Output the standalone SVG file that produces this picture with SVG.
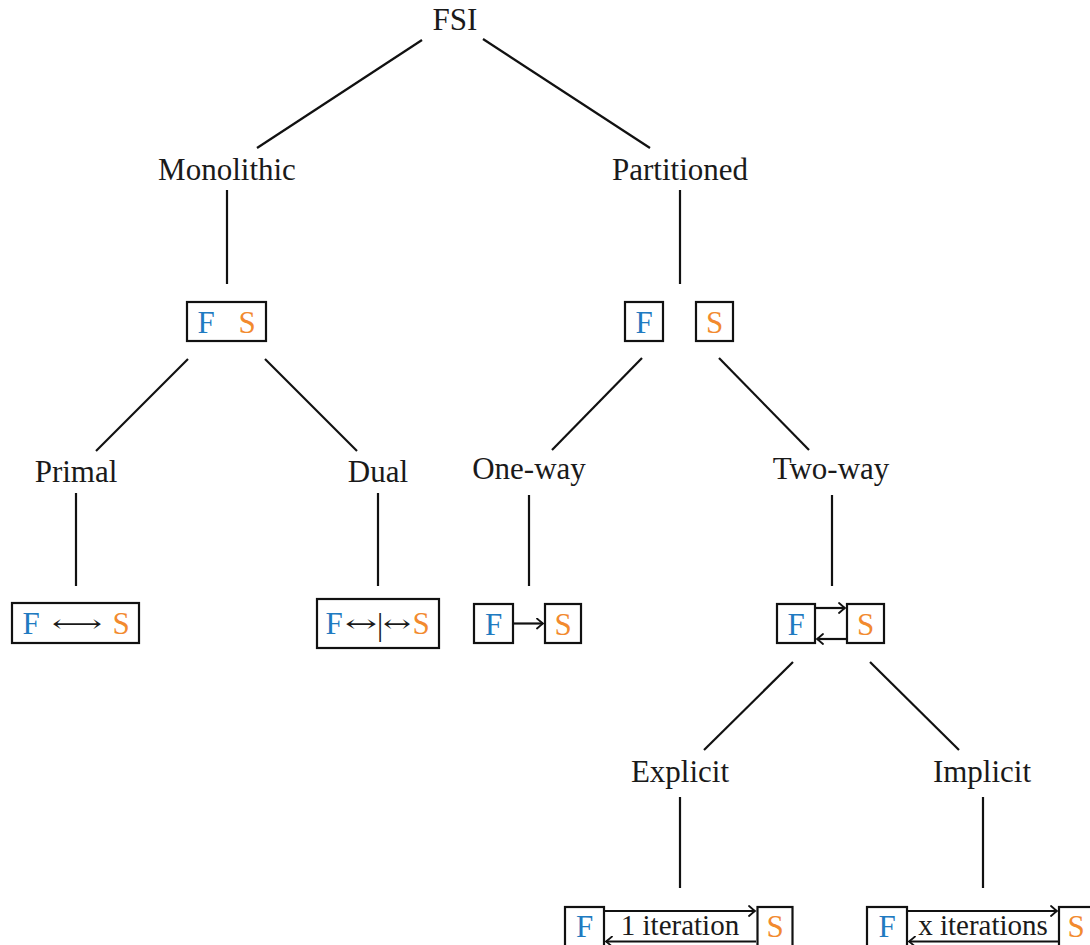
<svg xmlns="http://www.w3.org/2000/svg" width="1090" height="945" viewBox="0 0 1090 945">
  <defs>
    <style>
      text { font-family: "Liberation Serif", "DejaVu Serif", serif; }
      .lbl { font-size: 31px; fill: #1a1a1a; text-anchor: middle; }
      .sm { font-size: 29px; }
      .f { fill: #1f7bc1; }
      .s { fill: #f28a2e; }
      .sym { font-family: "DejaVu Serif", "DejaVu Sans", serif; font-size: 24px; fill: #1a1a1a; }
      .box { fill: #ffffff; stroke: #111111; stroke-width: 2.2; }
      .edge { stroke: #111111; stroke-width: 2.2; fill: none; }
      .arr { stroke: #111111; stroke-width: 2.2; fill: none; marker-end: url(#to); }
    </style>
    <marker id="to" viewBox="-8 -6 10 12" refX="0" refY="0" markerWidth="10" markerHeight="12" markerUnits="userSpaceOnUse" orient="auto">
      <path d="M-6,-5 Q-1.5,-1 0,0 Q-1.5,1 -6,5" fill="none" stroke="#111111" stroke-width="1.8" stroke-linecap="round"/>
    </marker>
  </defs>

  <!-- tree edges -->
  <g id="connectors">
    <line class="edge" x1="422" y1="40" x2="257" y2="148"/>
    <line class="edge" x1="483" y1="39" x2="650" y2="148"/>
    <line class="edge" x1="227" y1="190" x2="227" y2="284"/>
    <line class="edge" x1="680" y1="190" x2="680" y2="284"/>
    <line class="edge" x1="188" y1="359" x2="96" y2="451"/>
    <line class="edge" x1="265" y1="359" x2="357" y2="451"/>
    <line class="edge" x1="642" y1="358" x2="552" y2="450"/>
    <line class="edge" x1="719" y1="358" x2="809" y2="450"/>
    <line class="edge" x1="76" y1="493" x2="76" y2="586"/>
    <line class="edge" x1="378" y1="493" x2="378" y2="586"/>
    <line class="edge" x1="529" y1="495" x2="529" y2="586"/>
    <line class="edge" x1="832" y1="495" x2="832" y2="586"/>
    <line class="edge" x1="793" y1="662" x2="704" y2="750"/>
    <line class="edge" x1="870" y1="662" x2="959" y2="750"/>
    <line class="edge" x1="680" y1="797" x2="680" y2="888"/>
    <line class="edge" x1="983" y1="797" x2="983" y2="888"/>
  </g>

  <g id="fsi"><text class="lbl" x="455" y="30">FSI</text></g>
  <g id="monolithic"><text class="lbl" x="227" y="180">Monolithic</text></g>
  <g id="partitioned"><text class="lbl" x="680" y="180">Partitioned</text></g>

  <!-- coupled fluid/solid block -->
  <g id="mono-box">
    <rect class="box" x="187" y="302" width="79" height="39"/>
    <text class="lbl f" x="206" y="333">F</text>
    <text class="lbl s" x="247" y="333">S</text>
  </g>

  <!-- separate fluid and solid blocks -->
  <g id="part-box">
    <rect class="box" x="625" y="302" width="38" height="39"/>
    <text class="lbl f" x="644" y="333">F</text>
    <rect class="box" x="696" y="302" width="37" height="39"/>
    <text class="lbl s" x="714.5" y="333">S</text>
  </g>

  <g id="primal"><text class="lbl" x="76" y="482">Primal</text></g>
  <g id="dual"><text class="lbl" x="378" y="482">Dual</text></g>
  <g id="one-way"><text class="lbl" x="529" y="479">One-way</text></g>
  <g id="two-way"><text class="lbl" x="831" y="479">Two-way</text></g>

  <g id="primal-box">
    <rect class="box" x="12" y="603" width="127" height="40"/>
    <text class="lbl f" x="31" y="634">F</text>
    <text class="sym" x="52" y="632" textLength="50" lengthAdjust="spacingAndGlyphs">⟷</text>
    <text class="lbl s" x="121" y="634">S</text>
  </g>

  <g id="dual-box">
    <rect class="box" x="317" y="599" width="122" height="49"/>
    <text class="lbl f" x="334" y="634">F</text>
    <text class="sym" x="345" y="632" textLength="32" lengthAdjust="spacingAndGlyphs">↔</text>
    <text class="lbl" x="380" y="635">|</text>
    <text class="sym" x="383" y="632" textLength="28" lengthAdjust="spacingAndGlyphs">↔</text>
    <text class="lbl s" x="421" y="634">S</text>
  </g>

  <g id="one-way-box">
    <rect class="box" x="474" y="604" width="39" height="39"/>
    <text class="lbl f" x="493.5" y="635">F</text>
    <rect class="box" x="545" y="604" width="36" height="39"/>
    <text class="lbl s" x="563" y="635">S</text>
    <line class="arr" x1="514" y1="623.5" x2="543" y2="623.5"/>
  </g>

  <g id="two-way-box">
    <rect class="box" x="777" y="604" width="38" height="39"/>
    <text class="lbl f" x="796" y="635">F</text>
    <rect class="box" x="847" y="604" width="37" height="39"/>
    <text class="lbl s" x="865.5" y="635">S</text>
    <line class="arr" x1="816" y1="608" x2="845" y2="608"/>
    <line class="arr" x1="846" y1="639" x2="817" y2="639"/>
  </g>

  <g id="explicit"><text class="lbl" x="680" y="782">Explicit</text></g>
  <g id="implicit"><text class="lbl" x="982" y="782">Implicit</text></g>

  <g id="explicit-box">
    <rect class="box" x="565" y="907" width="39" height="40"/>
    <text class="lbl f" x="584.5" y="937">F</text>
    <rect class="box" x="757.5" y="907" width="35" height="40"/>
    <text class="lbl s" x="775" y="937">S</text>
    <line class="arr" x1="605" y1="911" x2="755" y2="911"/>
    <line class="arr" x1="756" y1="941.5" x2="606" y2="941.5"/>
    <text class="lbl sm" x="680" y="935">1 iteration</text>
  </g>

  <g id="implicit-box">
    <rect class="box" x="867" y="907" width="40" height="40"/>
    <text class="lbl f" x="887" y="937">F</text>
    <rect class="box" x="1059" y="907" width="39" height="40"/>
    <text class="lbl s" x="1076" y="937">S</text>
    <line class="arr" x1="908" y1="911" x2="1057" y2="911"/>
    <line class="arr" x1="1058" y1="941.5" x2="909" y2="941.5"/>
    <text class="lbl sm" x="983" y="935">x iterations</text>
  </g>
</svg>
